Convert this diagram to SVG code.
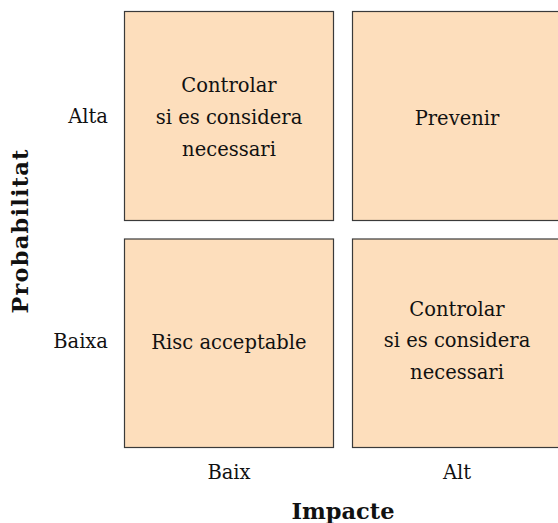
<svg xmlns="http://www.w3.org/2000/svg" width="558" height="523" viewBox="0 0 558 523">
  <style>
    .cell { fill: #FDDEBC; stroke: #3a3a3a; stroke-width: 1.2; }
    .txt { font-family: "DejaVu Serif", "Liberation Serif", serif; font-size: 19.5px; fill: #111; text-anchor: middle; }
    .lbl { font-family: "DejaVu Serif", "Liberation Serif", serif; font-size: 19.5px; fill: #111; }
    .axis { font-family: "DejaVu Serif", "Liberation Serif", serif; font-size: 22.5px; font-weight: bold; fill: #111; text-anchor: middle; }
  </style>
  <rect width="558" height="523" fill="#ffffff"/>

  <!-- risk matrix cells -->
  <g id="cell-alta-baix">
    <rect class="cell" x="124.5" y="11.5" width="209" height="209"/>
    <text class="txt" x="229" y="92">Controlar</text>
    <text class="txt" x="229" y="123.5">si es considera</text>
    <text class="txt" x="229" y="155.5">necessari</text>
  </g>
  <g id="cell-alta-alt">
    <rect class="cell" x="352.5" y="11.5" width="209" height="209"/>
    <text class="txt" x="457" y="125">Prevenir</text>
  </g>
  <g id="cell-baixa-baix">
    <rect class="cell" x="124.5" y="239" width="209" height="208.5"/>
    <text class="txt" x="229" y="349">Risc acceptable</text>
  </g>
  <g id="cell-baixa-alt">
    <rect class="cell" x="352.5" y="239" width="209" height="208.5"/>
    <text class="txt" x="457" y="315.5">Controlar</text>
    <text class="txt" x="457" y="347">si es considera</text>
    <text class="txt" x="457" y="378.5">necessari</text>
  </g>

  <!-- row labels -->
  <g id="row-labels">
    <text class="lbl" x="108" y="123" text-anchor="end">Alta</text>
    <text class="lbl" x="108" y="348" text-anchor="end">Baixa</text>
  </g>

  <!-- column labels -->
  <g id="col-labels">
    <text class="txt" x="229" y="479">Baix</text>
    <text class="txt" x="457" y="479">Alt</text>
  </g>

  <!-- axis titles -->
  <g id="axis-titles">
    <text class="axis" x="343" y="519">Impacte</text>
    <text class="axis" transform="translate(28 231) rotate(-90)" x="0" y="0" letter-spacing="1.2">Probabilitat</text>
  </g>
</svg>
